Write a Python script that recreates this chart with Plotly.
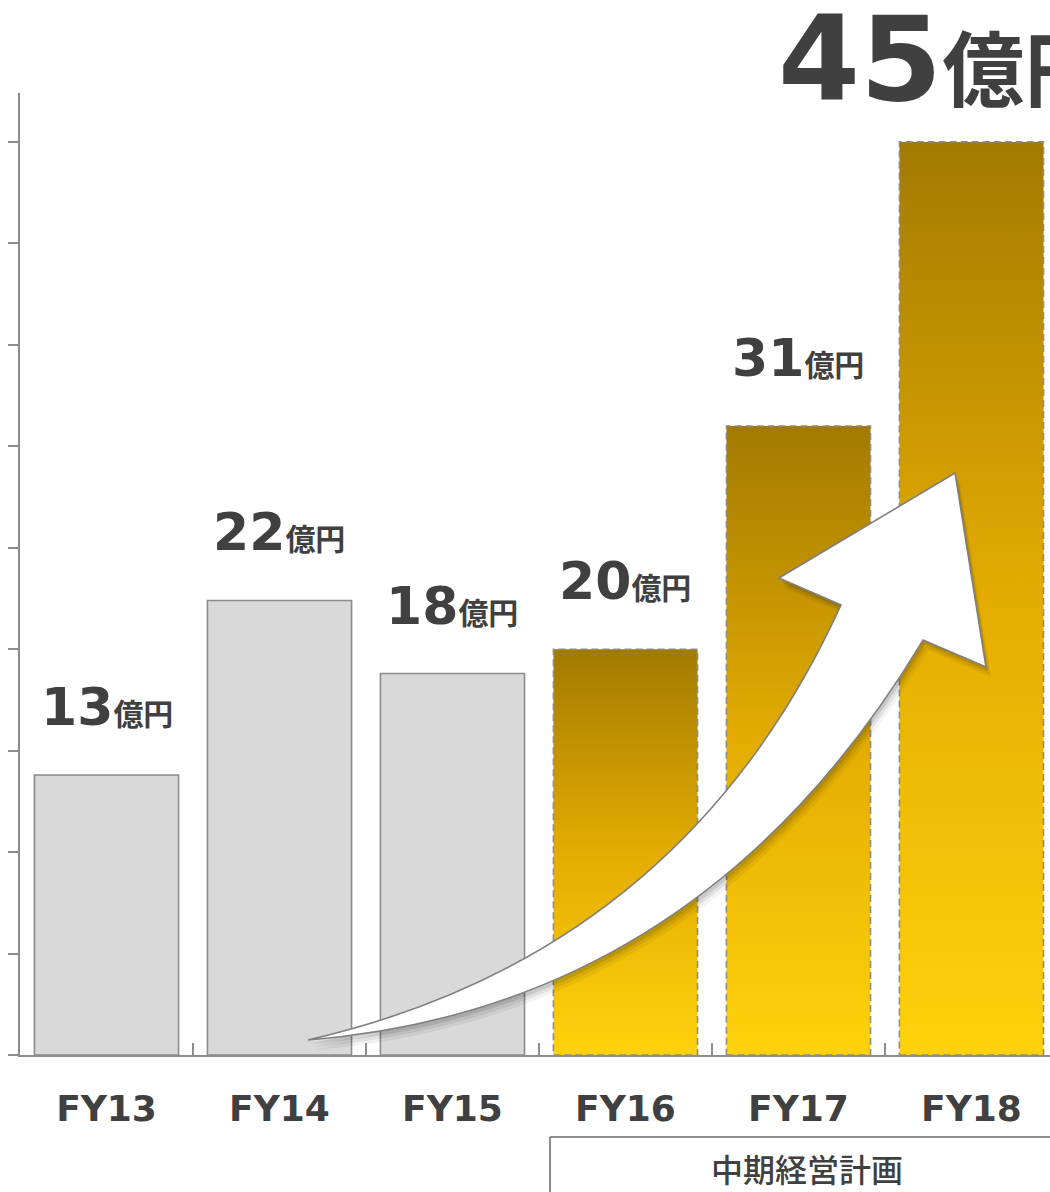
import plotly.graph_objects as go

# ---- data ----
categories = ["FY13", "FY14", "FY15", "FY16", "FY17", "FY18"]
values = [13.8, 22.4, 18.8, 20.0, 31.0, 45.0]          # bar heights (億円, as drawn)
value_labels = ["13", "22", "18", "20", "31", "45"]      # printed numbers
unit_label = "億円"
plan_label = "中期経営計画"
actual_idx = [0, 1, 2]
plan_idx = [3, 4, 5]
y_ticks = [0, 5, 10, 15, 20, 25, 30, 35, 40, 45]

TXT = "#404040"
AX = "#8c8c8c"
BAR_W = 0.833
FONT = "DejaVu Sans, Noto Sans CJK JP, sans-serif"
CJK = "Noto Sans CJK JP, sans-serif"

fig = go.Figure()

# grey (actual) bars
fig.add_trace(go.Bar(
    x=actual_idx, y=[values[i] for i in actual_idx], width=BAR_W,
    marker=dict(color="#d9d9d9", line=dict(color=AX, width=1.6)),
    hoverinfo="skip"))

# gold (plan) bars: vertical gradient fill per bar
for i in plan_idx:
    v = values[i]
    xl, xr = i - BAR_W / 2, i + BAR_W / 2
    fig.add_trace(go.Scatter(
        x=[xl, xr, xr, xl, xl], y=[0, 0, v, v, 0],
        mode="lines", fill="toself",
        fillgradient=dict(type="vertical",
                          colorscale=[[0, "#fed20b"], [0.5, "#e4ac02"], [1, "#a27a00"]]),
        line=dict(color=AX, width=1.6, dash="7px,4px"),
        hoverinfo="skip"))

# value labels
for i in range(5):
    fig.add_annotation(
        x=i, y=values[i], xref="x", yref="y", yanchor="bottom", yshift=36,
        showarrow=False,
        text=f"<span style='font-size:52px'>{value_labels[i]}</span>"
             f"<span style='font-size:30px'>{unit_label}</span>",
        font=dict(family=FONT, color=TXT, size=30, weight="bold"))

# big final label (cut off at the right edge like the original)
fig.add_annotation(
    x=3.87, y=values[5], xref="x", yref="y", xanchor="left", yanchor="bottom", yshift=12,
    showarrow=False,
    text=f"<span style='font-size:118px'>{value_labels[5]}</span>"
         f"<span style='font-size:82px'>{unit_label}</span>",
    font=dict(family=FONT, color=TXT, size=82, weight="bold"))

# curved growth arrow (decoration)
tail = (1.165, 0.739)
up_ctrl, up_end = (3.327, 4.978), (4.246, 22.18)
barb_l, tip, barb_r = (3.887, 23.51), (4.905, 28.68), (5.084, 19.12)
lo_end, lo_ctrl = (4.720, 20.45), (3.442, 2.316)


def arrow_path(dx=0.0, dy=0.0):
    p = lambda pt: f"{pt[0] + dx},{pt[1] + dy}"
    return (f"M {p(tail)} Q {p(up_ctrl)} {p(up_end)} L {p(barb_l)} L {p(tip)} "
            f"L {p(barb_r)} L {p(lo_end)} Q {p(lo_ctrl)} {p(tail)} Z")


for dx, dy, op in [(0.012, -0.2, 0.10), (0.02, -0.35, 0.07), (0.03, -0.5, 0.05)]:
    fig.add_shape(type="path", path=arrow_path(dx, dy), xref="x", yref="y",
                  fillcolor="black", opacity=op, line=dict(width=0), layer="above")
fig.add_shape(type="path", path=arrow_path(), xref="x", yref="y",
              fillcolor="white", line=dict(color="#7f7f7f", width=1.6), layer="above")

# plan bracket
fig.add_shape(type="line", xref="x", yref="paper", x0=2.564, x1=5.6, y0=-0.0852, y1=-0.0852,
              line=dict(color=AX, width=2))
fig.add_shape(type="line", xref="x", yref="paper", x0=2.564, x1=2.564, y0=-0.0852, y1=-0.16,
              line=dict(color=AX, width=2))
fig.add_annotation(x=4.049, y=-0.1175, xref="x", yref="paper", yanchor="middle",
                   xanchor="center", showarrow=False,
                   text=plan_label, font=dict(family=CJK, size=32, color=TXT, weight=500))

fig.update_xaxes(
    type="linear", range=[-0.5, 5.454], tickmode="array",
    tickvals=list(range(len(categories))), ticktext=categories,
    ticks="", showline=True, linecolor=AX, linewidth=2, showgrid=False, zeroline=False,
    tickfont=dict(family=FONT, size=36, color=TXT, weight="bold"),
    ticklabelstandoff=21, automargin=False,
    minor=dict(tickmode="array", tickvals=[0.5, 1.5, 2.5, 3.5, 4.5],
               ticks="inside", ticklen=12, tickwidth=1.5, tickcolor=AX, showgrid=False))
fig.update_yaxes(
    range=[0, 47.41], tickmode="array", tickvals=y_ticks, showticklabels=False,
    ticks="outside", ticklen=10, tickwidth=2, tickcolor=AX,
    showline=True, linecolor=AX, linewidth=2, showgrid=False, zeroline=False,
    automargin=False)

fig.update_layout(
    width=1050, height=1192, margin=dict(l=20, r=0, t=93, b=137),
    template="none", plot_bgcolor="white", paper_bgcolor="white",
    showlegend=False, hovermode=False)

# remove the default page margin so the figure fills the window exactly
fig.write_html(
    "out.html",
    config={"displayModeBar": False, "staticPlot": True},
    post_script="document.body.style.margin='0';"
                "document.documentElement.style.overflow='hidden';"
                "document.body.style.overflow='hidden';")
